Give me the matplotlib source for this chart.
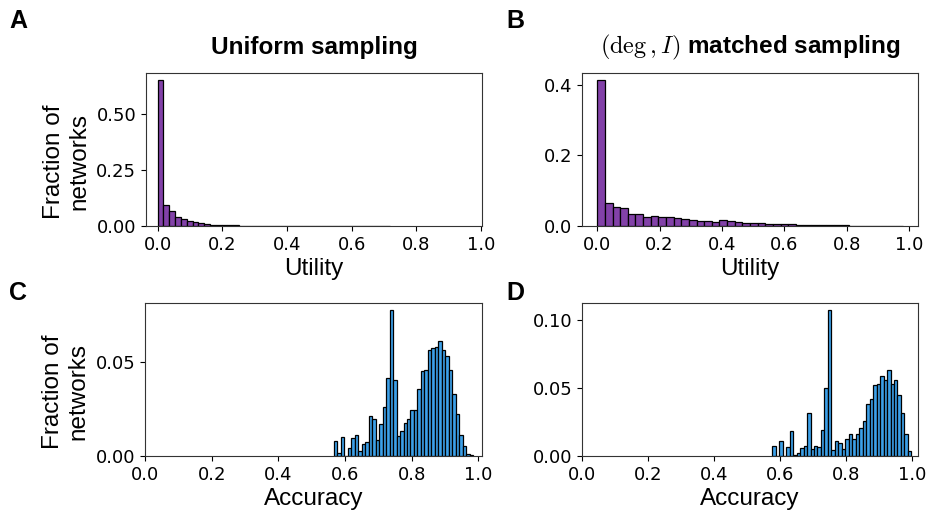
import numpy as np
import matplotlib.pyplot as plt

plt.rcParams['font.family'] = ['Liberation Sans', 'DejaVu Sans']
plt.rcParams['mathtext.fontset'] = 'cm'

# fraction of networks per bin (40 bins each)
util_uniform = [0.650, 0.095, 0.065, 0.040, 0.033, 0.022, 0.018, 0.013, 0.010, 0.006,
                0.0045, 0.003, 0.003, 0.0025, 0.002, 0.002, 0.0018, 0.0015, 0.0012, 0.0012,
                0.001, 0.001, 0.0008, 0.0008, 0.0005, 0.0003, 0.0002, 0.0001, 0.0001, 0.0001,
                0, 0, 0, 0, 0, 0, 0, 0, 0, 0]
util_matched = [0.412, 0.066, 0.054, 0.050, 0.035, 0.035, 0.026, 0.029, 0.0245, 0.0245,
                0.0226, 0.021, 0.018, 0.015, 0.014, 0.012, 0.017, 0.014, 0.010, 0.0095,
                0.0095, 0.0095, 0.0066, 0.0066, 0.0047, 0.0066, 0.0038, 0.0028, 0.0028, 0.002,
                0.002, 0.0015, 0.0015, 0.0012, 0.001, 0.0008, 0.0006, 0.0004, 0.0002, 0.0001]
acc_uniform = [0.0080, 0.0014, 0.0099, 0.0, 0.0041, 0.0095, 0.0110, 0.0025, 0.0065, 0.0076,
               0.0214, 0.0198, 0.0087, 0.0168, 0.0260, 0.0412, 0.0772, 0.0405, 0.0104, 0.0131,
               0.0177, 0.0194, 0.0242, 0.0242, 0.0353, 0.0449, 0.0454, 0.0564, 0.0571, 0.0578,
               0.0610, 0.0564, 0.0528, 0.0454, 0.0331, 0.0224, 0.0111, 0.0053, 0.0012, 0.0005]
acc_matched = [0.0076, 0.0, 0.0110, 0.0, 0.0064, 0.0184, 0.0005, 0.0025, 0.0061, 0.0076,
               0.0319, 0.0054, 0.0076, 0.0064, 0.0194, 0.0498, 0.1071, 0.0047, 0.0110, 0.0093,
               0.0054, 0.0127, 0.0164, 0.0127, 0.0164, 0.0208, 0.0257, 0.0380, 0.0422, 0.0522,
               0.0532, 0.0588, 0.0561, 0.0630, 0.0529, 0.0556, 0.0449, 0.0316, 0.0162, 0.0039]

# bin ranges
range_a = (0.0, 0.72)
range_b = (0.0, 0.98)
range_c = (0.566, 0.985)
range_d = (0.577, 0.999)

purple = '#8241a8'
blue = '#3ca0e8'

W, H = 929, 522
fig = plt.figure(figsize=(W / 100, H / 100), dpi=100)

def box(l, t, r, b):
    return [l / W, 1 - b / H, (r - l) / W, (b - t) / H]

axA = fig.add_axes(box(146, 73, 482, 226))
axB = fig.add_axes(box(582, 73, 918, 226))
axC = fig.add_axes(box(145, 303, 482, 456))
axD = fig.add_axes(box(582, 303, 918, 456))

def draw(ax, vals, rng, color):
    edges = np.linspace(rng[0], rng[1], len(vals) + 1)
    ax.hist(edges[:-1], bins=edges, weights=vals, color=color,
            edgecolor='black', linewidth=0.9)

draw(axA, util_uniform, range_a, purple)
draw(axB, util_matched, range_b, purple)
draw(axC, acc_uniform, range_c, blue)
draw(axD, acc_matched, range_d, blue)

axA.set_xlim(-0.036, 1.003)
axB.set_xlim(-0.049, 1.029)
axC.set_xlim(0, 1.011)
axD.set_xlim(0, 1.019)

axA.set_yticks([0, 0.25, 0.5], ['0.00', '0.25', '0.50'])
axB.set_yticks([0, 0.2, 0.4], ['0.0', '0.2', '0.4'])
axC.set_yticks([0, 0.05], ['0.00', '0.05'])
axD.set_yticks([0, 0.05, 0.1], ['0.00', '0.05', '0.10'])

xt = [0, 0.2, 0.4, 0.6, 0.8, 1.0]
for ax in [axA, axB, axC, axD]:
    ax.set_xticks(xt, ['0.0', '0.2', '0.4', '0.6', '0.8', '1.0'])
    ax.tick_params(labelsize=13)
    for t in ax.get_xticklabels() + ax.get_yticklabels():
        t.set_family('DejaVu Sans')
    for s in ax.spines.values():
        s.set_color('#333333')

axA.set_xlabel('Utility', fontsize=17.5, labelpad=3)
axB.set_xlabel('Utility', fontsize=17.5, labelpad=3)
axC.set_xlabel('Accuracy', fontsize=17.5, labelpad=3)
axD.set_xlabel('Accuracy', fontsize=17.5, labelpad=3)
axA.set_ylabel('Fraction of\nnetworks', fontsize=17.5)
axC.set_ylabel('Fraction of\nnetworks', fontsize=17.5)
axA.yaxis.set_label_coords(-0.165, 0.42)
axC.yaxis.set_label_coords(-0.165, 0.42)

axA.set_title('Uniform sampling', fontsize=17.5, fontweight='bold', pad=14)
axB.set_title(r'$(\deg, I)$ matched sampling', fontsize=17.5, fontweight='bold', pad=14)

for lab, x, y in [('A', 9, 9), ('B', 506, 9), ('C', 9, 281), ('D', 506, 281)]:
    fig.text(x / W, 1 - y / H, lab, fontsize=18, fontweight='bold', va='top', ha='left')

fig.savefig('out.png', dpi=100)
